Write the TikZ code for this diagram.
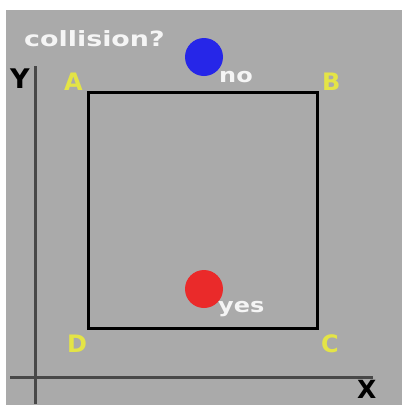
\documentclass[tikz,border=0pt]{standalone}
\usepackage{fontspec}
\setmainfont{DejaVu Sans}
\usepackage{graphicx}
\usepackage{tikz}
\usetikzlibrary{positioning,backgrounds}
\definecolor{panel}{RGB}{170,170,170}
\definecolor{axisgray}{RGB}{72,72,72}
\definecolor{cornerylw}{RGB}{228,228,70}
\definecolor{ballblue}{RGB}{38,38,232}
\definecolor{ballred}{RGB}{234,42,42}
\definecolor{captionwht}{RGB}{245,245,245}

\begin{document}
\begin{tikzpicture}[x=1pt,y=-1pt,
                    corner label/.style={text=cornerylw,anchor=base west,inner sep=0pt,
                    font=\bfseries\fontsize{24}{24}\selectfont},
                    axis label/.style={text=black,anchor=base west,inner sep=0pt,
                    font=\bfseries\fontsize{27}{27}\selectfont},
                    answer/.style={text=captionwht,anchor=base west,inner sep=0pt,
                    font=\bfseries\fontsize{20}{20}\selectfont},
                    ball/.style={circle,minimum size=38pt,inner sep=0pt}]

\useasboundingbox (0,0) rectangle (402,405);
\fill[white] (0,0) rectangle (402,405);
\fill[panel] (6,10) rectangle (402,405);

% axes
\draw[axisgray,line width=3pt] (35,66) -- (35,404);
\draw[axisgray,line width=3pt] (10,377) -- (373,377);
\node[axis label] (ylabel) at (10,88) {Y};
\node[axis label,font=\bfseries\fontsize{25}{25}\selectfont] (xlabel) at (357,398) {X};

% the box
\coordinate (a) at (88,92);
\coordinate (b) at (317,92);
\coordinate (c) at (317,328);
\coordinate (d) at (88,328);
\draw[line width=3pt] (a) -- (b) -- (c) -- (d) -- cycle;

\node[corner label] (A) at (64,90) {A};
\node[corner label] (B) at (322,90) {B};
\node[corner label] (C) at (321,352) {C};
\node[corner label] (D) at (67,352) {D};

% the two balls
\node[ball,fill=ballblue] (no ball) at (204,57) {};
\node[ball,fill=ballred] (yes ball) at (204,289) {};
\node[answer] (no) at (219,82) {\scalebox{1.2}[1]{no}};
\node[answer] (yes) at (218,312) {\scalebox{1.2}[1]{yes}};

\node[answer,font=\bfseries\fontsize{21}{21}\selectfont] (question) at (24,46)
    {\scalebox{1.28}[1]{collision?}};

\end{tikzpicture}
\end{document}
